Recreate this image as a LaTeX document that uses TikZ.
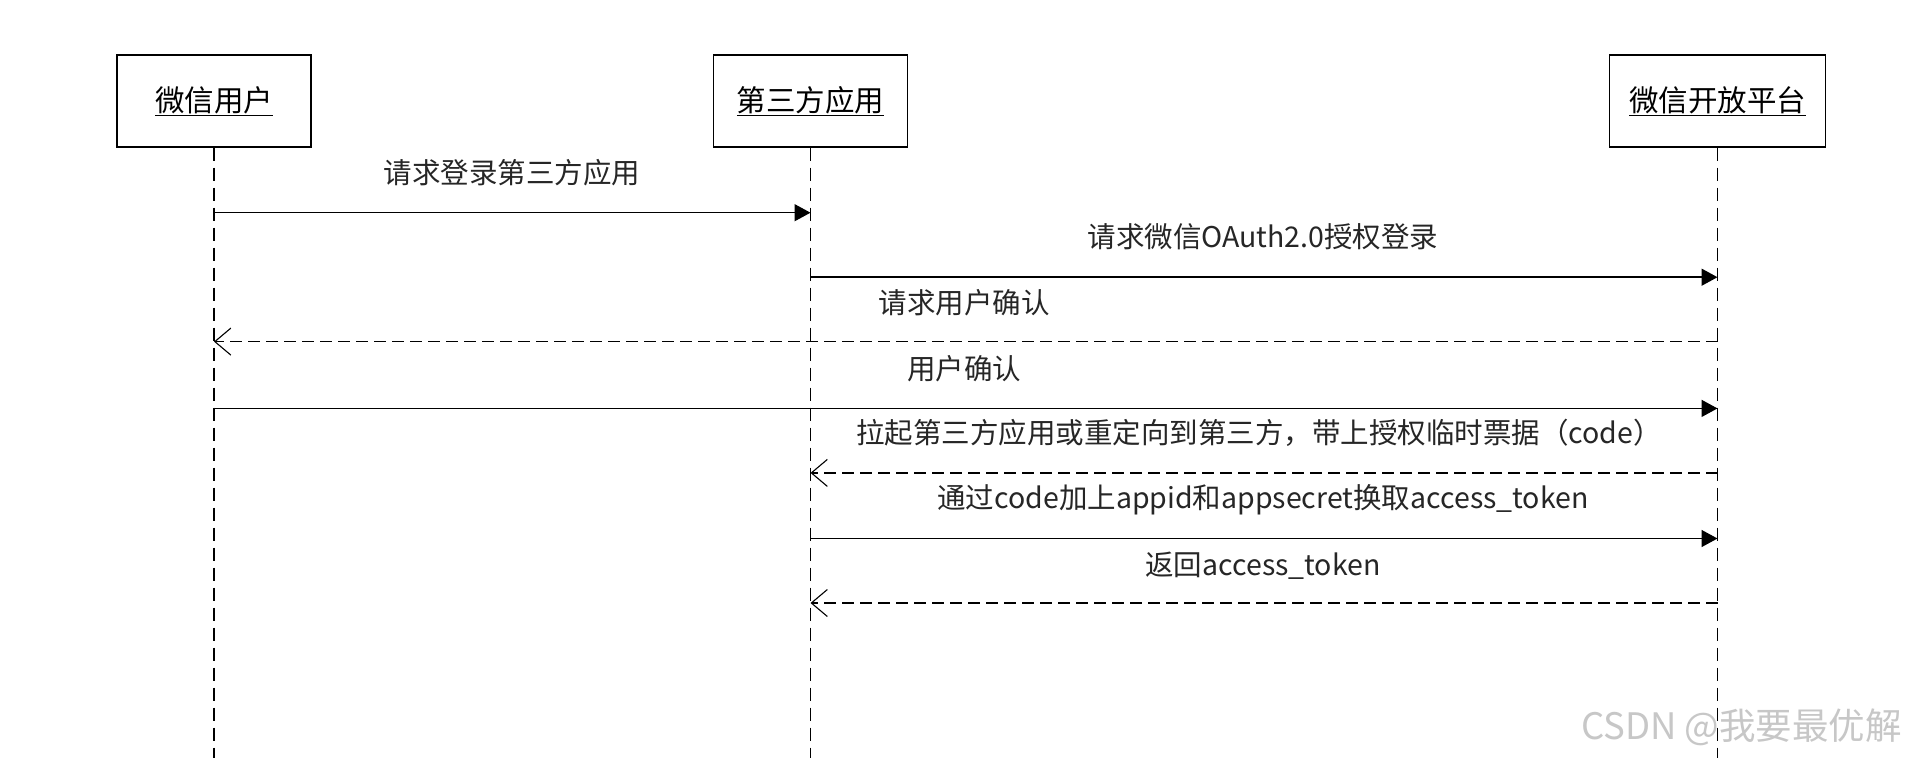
\documentclass[tikz,border=0pt]{standalone}
\usepackage{fontspec}
\setmainfont{Noto Sans CJK SC}
\usetikzlibrary{arrows.meta}
\tikzset{
  actor/.style={draw=black, line width=1.4pt, minimum width=194pt, minimum height=92pt, inner sep=0pt, font=\fontsize{29.5}{32}\selectfont},
  life/.style={draw=black, line width=1.4pt, dash pattern=on 13pt off 7pt},
  call/.style={draw=black, line width=1.5pt, -{Triangle[length=16pt,width=17pt]}},
  reply/.style={draw=black, line width=1.5pt, dash pattern=on 12pt off 6pt, -{Straight Barb[length=16pt,width=27pt,line width=1.1pt]}},
  lbl/.style={font=\fontsize{28.5}{32}\selectfont, text=black!85, inner sep=0pt},
  wmark/.style={font=\fontsize{36.5}{40}\selectfont, text=black!22, inner sep=0pt}
}
\begin{document}
\begin{tikzpicture}[x=1pt,y=-1pt]
\useasboundingbox (0,0) rectangle (1906,758);
\fill[white] (0,0) rectangle (1906,758);
% actors
\node[actor] (user) at (214,101) {\underline{微信用户}};
\node[actor] (app) at (810.5,101) {\underline{第三方应用}};
\node[actor, minimum width=216pt] (wx) at (1717.5,101) {\underline{微信开放平台}};
% lifeline ends
\coordinate (userEnd) at (214,758);
\coordinate (appEnd) at (810.5,758);
\coordinate (wxEnd) at (1717.5,758);
\draw[life] (user.south) -- (userEnd);
\draw[life] (app.south) -- (appEnd);
\draw[life] (wx.south) -- (wxEnd);
% message anchor points
\coordinate (u1) at (user |- 0,212.7);
\coordinate (a1) at (app |- 0,212.7);
\coordinate (a2) at (app |- 0,277.2);
\coordinate (w2) at (wx |- 0,277.2);
\coordinate (w3) at (wx |- 0,341.6);
\coordinate (u3) at (user |- 0,341.6);
\coordinate (u4) at (user |- 0,408.4);
\coordinate (w4) at (wx |- 0,408.4);
\coordinate (w5) at (wx |- 0,472.9);
\coordinate (a5) at (app |- 0,472.9);
\coordinate (a6) at (app |- 0,538.5);
\coordinate (w6) at (wx |- 0,538.5);
\coordinate (w7) at (wx |- 0,603);
\coordinate (a7) at (app |- 0,603);
% messages
\draw[call] (u1) -- (a1);
\draw[call] (a2) -- (w2);
\draw[reply] (w3) -- (u3);
\draw[call] (u4) -- (w4);
\draw[reply] (w5) -- (a5);
\draw[call] (a6) -- (w6);
\draw[reply] (w7) -- (a7);
% labels
\node[lbl] (l1) at (512,172.6) {请求登录第三方应用};
\node[lbl] (l2) at (1263,237) {请求微信OAuth2.0授权登录};
\node[lbl] (l3) at (964,302.7) {请求用户确认};
\node[lbl] (l4) at (964,368.3) {用户确认};
\node[lbl] (l5) at (1259,432.8) {拉起第三方应用或重定向到第三方，带上授权临时票据（code）};
\node[lbl] (l6) at (1263,499.6) {通过code加上appid和appsecret换取access\_token};
\node[lbl] (l7) at (1263,565.3) {返回access\_token};
% watermark
\node[wmark, anchor=east] (wm) at (1902,727) {CSDN @我要最优解};
\end{tikzpicture}
\end{document}
